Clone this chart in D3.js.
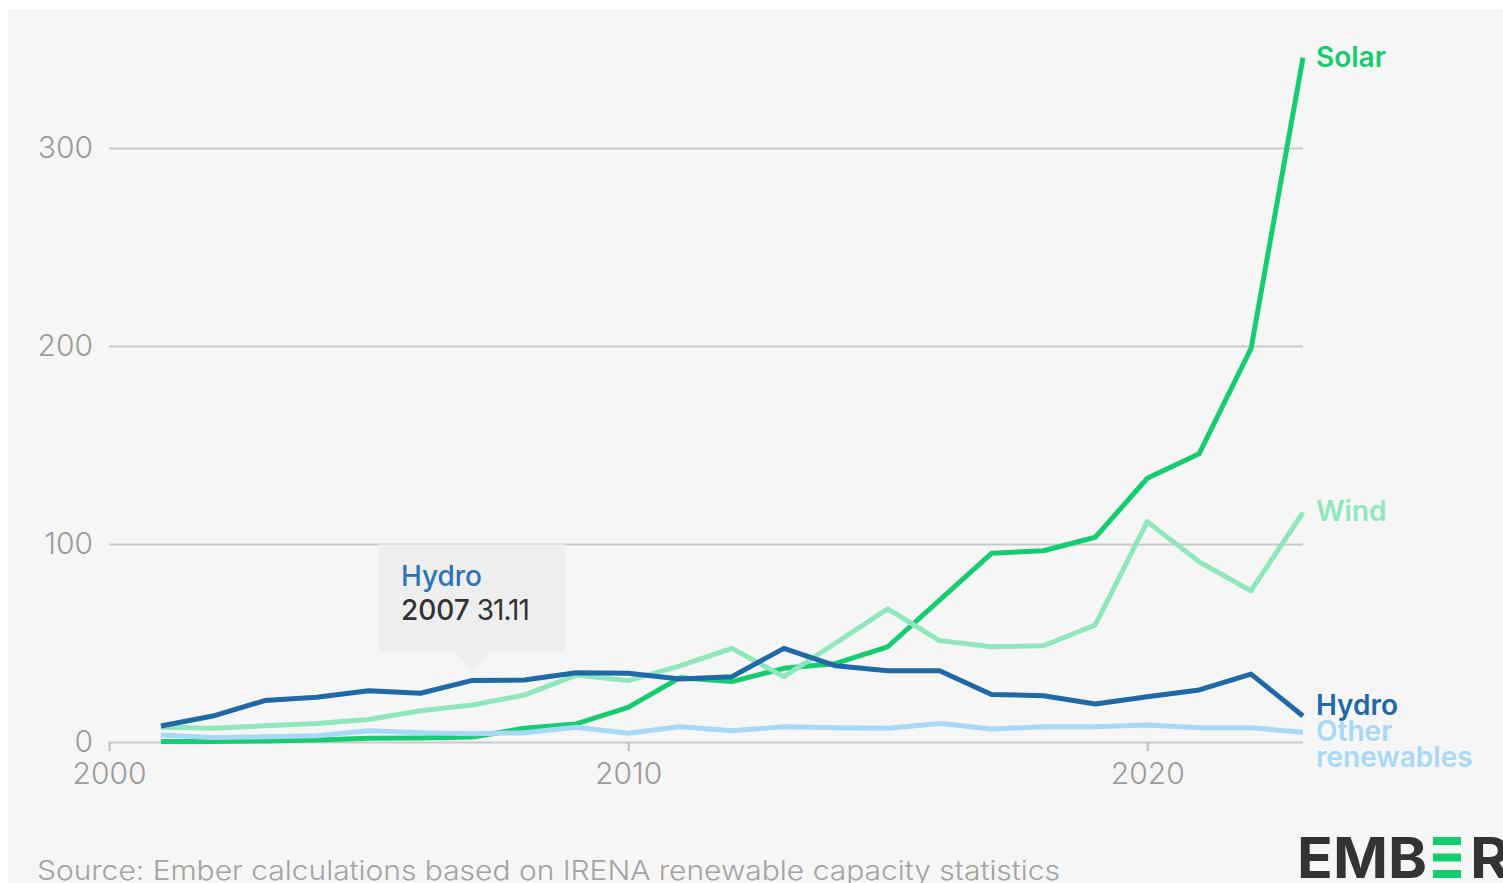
<!DOCTYPE html>
<html>
<head>
<meta charset="utf-8">
<script src="https://cdn.jsdelivr.net/npm/d3@7"></script>
<style>
  html, body { margin: 0; padding: 0; background: #ffffff; }
  svg { display: block; }
  text { font-family: Inter, "Noto Sans", sans-serif; }
</style>
</head>
<body>
<svg id="chart" width="1503" height="883"></svg>
<script>
// Annual capacity additions (GW), 2001–2023
const years = [2001, 2002, 2003, 2004, 2005, 2006, 2007, 2008, 2009, 2010, 2011, 2012,
               2013, 2014, 2015, 2016, 2017, 2018, 2019, 2020, 2021, 2022, 2023];
const solar = [0.2, 0.3, 0.5, 1.0, 1.9, 2.0, 2.5, 6.9, 9.1, 17.5, 32.5, 30.5,
               37.2, 39.7, 48.1, 71.6, 95.3, 96.6, 103.4, 133.2, 145.6, 198.8, 345.6];
const wind  = [7.4, 6.9, 8.2, 9.4, 11.4, 15.8, 18.7, 23.7, 33.8, 31.0, 38.4, 47.3,
               33.0, 50.0, 67.2, 51.2, 48.1, 48.6, 59.1, 111.3, 91.0, 76.4, 116.0];
const hydro = [8.1, 13.1, 20.9, 22.6, 25.9, 24.6, 31.11, 31.3, 35.0, 34.7, 31.8, 33.0,
               47.3, 38.5, 36.0, 36.0, 24.0, 23.4, 19.2, 22.9, 26.3, 34.3, 13.1];
const other = [3.5, 2.3, 2.6, 3.2, 5.7, 4.7, 4.2, 4.7, 7.4, 4.4, 7.7, 5.7,
               7.7, 7.2, 6.9, 9.4, 6.6, 7.7, 7.7, 8.6, 7.2, 7.2, 4.9];

const seriesNames  = ["Solar", "Wind", "Hydro", "Other renewables"];
const seriesValues = [solar, wind, hydro, other];
const seriesColors = ["#15cd70", "#8fe7bb", "#1f69a7", "#a7d8f6"];

const yTicks = [0, 100, 200, 300];
const xTicks = [2000, 2010, 2020];
const sourceText = "Source: Ember calculations based on IRENA renewable capacity statistics";

// Highlighted point shown in the hover card
const hoverSeries = "Hydro";
const hoverYear = 2007;

const svg = d3.select("#chart");

// Panel background
svg.append("rect")
  .attr("x", 8).attr("y", 9)
  .attr("width", 1495).attr("height", 874)
  .attr("fill", "#f6f6f6");

const x = d3.scaleLinear().domain([2000, 2023]).range([109, 1303]);
const y = d3.scaleLinear().domain([0, 300]).range([742, 148]);

// Y gridlines and labels
const yAxis = svg.append("g")
  .attr("transform", `translate(${x(2000)},0)`)
  .call(d3.axisLeft(y)
    .tickValues(yTicks)
    .tickSize(-(x(2023) - x(2000)))
    .tickPadding(16)
    .tickFormat(d3.format("d")));
yAxis.select(".domain").remove();
yAxis.selectAll(".tick line").attr("stroke", "#c9c9c9").attr("stroke-width", 2);
yAxis.selectAll(".tick text")
  .attr("fill", "#9b9b9b")
  .style("font-size", "30px")
  .style("font-weight", 300);

// X ticks and labels
const xAxis = svg.append("g")
  .attr("transform", `translate(0,${y(0)})`)
  .call(d3.axisBottom(x)
    .tickValues(xTicks)
    .tickSize(9)
    .tickPadding(12)
    .tickFormat(d3.format("d")));
xAxis.select(".domain").remove();
xAxis.selectAll(".tick line").attr("stroke", "#bdbdbd").attr("stroke-width", 2);
xAxis.selectAll(".tick text")
  .attr("fill", "#9b9b9b")
  .style("font-size", "30px")
  .style("font-weight", 300);

// Series lines
const line = d3.line()
  .x((d, i) => x(years[i]))
  .y(d => y(d));

seriesValues.forEach((vals, k) => {
  svg.append("path")
    .datum(vals)
    .attr("d", line)
    .attr("fill", "none")
    .attr("stroke", seriesColors[k])
    .attr("stroke-width", 5)
    .attr("stroke-linejoin", "round")
    .attr("stroke-linecap", "butt");
});

// End labels: each sits at its line's last value; when two collide,
// the upper one is pushed up so the lower keeps its anchor.
const lineH = 26;
const labels = seriesNames.map((name, k) => {
  const lines = name === "Other renewables" ? ["Other", "renewables"] : [name];
  return {
    name, lines, color: seriesColors[k],
    first: y(seriesValues[k][seriesValues[k].length - 1]),
    n: lines.length
  };
});
const sorted = labels.slice().sort((a, b) => b.first - a.first); // bottom first
for (let i = 1; i < sorted.length; i++) {
  const below = sorted[i - 1], cur = sorted[i];
  const lastLine = cur.first + (cur.n - 1) * lineH;
  if (below.first - lastLine < lineH) {
    cur.first = below.first - lineH - (cur.n - 1) * lineH;
  }
}
labels.forEach(l => {
  const t = svg.append("text")
    .attr("fill", l.color)
    .style("font-size", "28px")
    .style("font-weight", 600);
  l.lines.forEach((s, i) => {
    t.append("tspan")
      .attr("x", x(2023) + 13)
      .attr("y", l.first + lineH * i - 1)
      .attr("dy", "0.36em")
      .text(s);
  });
});

// Hover card for one highlighted point
const hk = seriesNames.indexOf(hoverSeries);
const hv = seriesValues[hk][years.indexOf(hoverYear)];
const px = x(hoverYear), py = y(hv);
const cardW = 186, cardH = 107;
const cardX = px - 93.5, cardBottom = py - 29;
const card = svg.append("g");
card.append("rect")
  .attr("x", cardX).attr("y", cardBottom - cardH)
  .attr("width", cardW).attr("height", cardH)
  .attr("fill", "#eeeeee");
card.append("path")
  .attr("d", `M${px - 18},${cardBottom} L${px},${py - 9} L${px + 18},${cardBottom} Z`)
  .attr("fill", "#eeeeee");
card.append("text")
  .attr("x", cardX + 22).attr("y", cardBottom - 65)
  .attr("fill", "#2b74b6")
  .style("font-size", "28px")
  .style("font-weight", 500)
  .text(hoverSeries);
const vt = card.append("text")
  .attr("x", cardX + 22).attr("y", cardBottom - 31)
  .attr("fill", "#333333")
  .style("font-size", "28px");
vt.append("tspan").style("font-weight", 500).text(hoverYear);
vt.append("tspan").attr("dx", 7).style("font-weight", 400).style("letter-spacing", "-1px").text(d3.format(".2f")(hv));

// Source note
svg.append("text")
  .attr("x", 37).attr("y", 880)
  .attr("fill", "#a3a3a3")
  .attr("textLength", 1023)
  .attr("lengthAdjust", "spacingAndGlyphs")
  .style("font-size", "27px")
  .style("font-weight", 300)
  .text(sourceText);

// Wordmark
const logo = svg.append("g");
logo.append("text")
  .attr("x", 1297).attr("y", 878)
  .attr("fill", "#333333")
  .attr("textLength", 130)
  .attr("lengthAdjust", "spacingAndGlyphs")
  .style("font-size", "57px")
  .style("font-weight", 700)
  .text("EMB");
[837, 853.5, 870].forEach(by => {
  logo.append("rect")
    .attr("x", 1433).attr("y", by)
    .attr("width", 28).attr("height", 8)
    .attr("fill", "#15cd70");
});
logo.append("text")
  .attr("x", 1470).attr("y", 878)
  .attr("fill", "#333333")
  .attr("textLength", 40)
  .attr("lengthAdjust", "spacingAndGlyphs")
  .style("font-size", "57px")
  .style("font-weight", 700)
  .text("R");
</script>
</body>
</html>
